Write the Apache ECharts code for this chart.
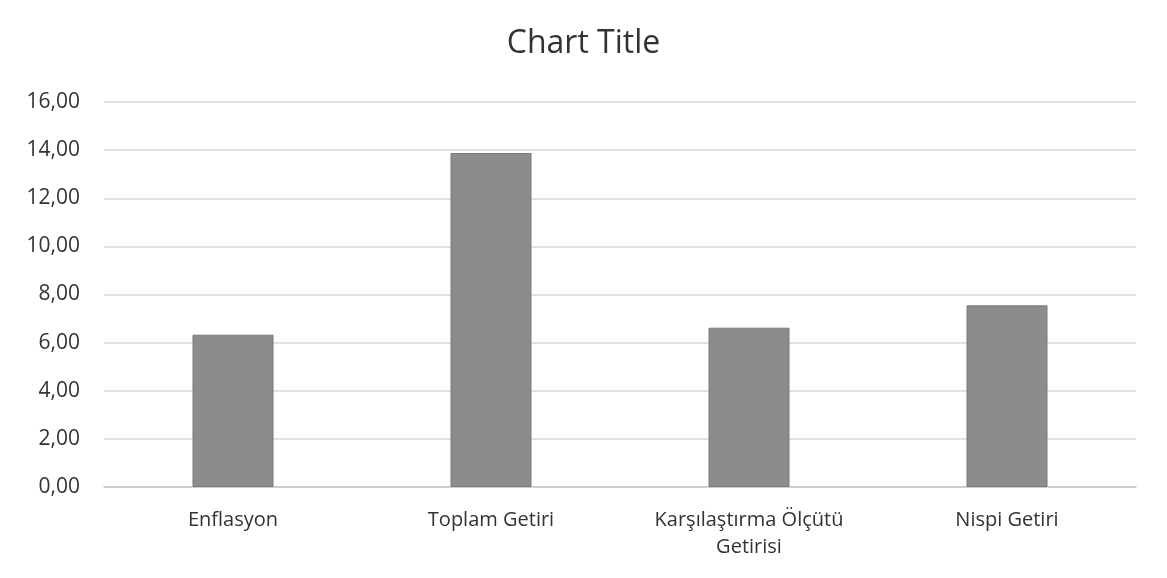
<!DOCTYPE html>
<html style="height: 100%">
<head>
    <meta charset="utf-8">
    <style type="text/css">
        body { margin: 0; background: #ffffff; }
        #container { width: 1167px; height: 578px; }
    </style>
</head>
<body>
<div id="container"></div>
<script src="https://cdn.jsdelivr.net/npm/echarts@6/dist/echarts.min.js"></script>
<script type="text/javascript">
    // values
    var categories = ['Enflasyon', 'Toplam Getiri', 'Karşılaştırma Ölçütü\nGetirisi', 'Nispi Getiri'];
    var values = [6.33, 13.88, 6.62, 7.55];
    var yTicks = { min: 0, max: 16, step: 2 };

    var chart = echarts.init(document.getElementById('container'));
    var option = {
        backgroundColor: '#ffffff',
        animation: false,
        title: {
            text: 'Chart Title',
            left: 'center',
            top: 23,
            textStyle: {
                fontFamily: 'Open Sans',
                fontSize: 32,
                fontWeight: 'normal',
                color: '#333333'
            }
        },
        grid: {
            left: 104,
            right: 31,
            top: 102,
            bottom: 91
        },
        xAxis: {
            type: 'category',
            data: categories,
            axisTick: { show: false },
            axisLine: { lineStyle: { color: '#c8c8c8', width: 1.5 } },
            axisLabel: {
                margin: 20,
                fontFamily: 'Open Sans',
                fontSize: 20,
                color: '#333333',
                lineHeight: 27,
                interval: 0
            }
        },
        yAxis: {
            type: 'value',
            min: yTicks.min,
            max: yTicks.max,
            interval: yTicks.step,
            axisLine: { show: false },
            axisTick: { show: false },
            splitLine: { lineStyle: { color: '#d9d9d9', width: 1.5 } },
            axisLabel: {
                margin: 24,
                fontFamily: 'Open Sans',
                fontSize: 21,
                color: '#333333',
                formatter: function (v) { return v.toFixed(2).replace('.', ','); }
            }
        },
        series: [{
            type: 'bar',
            data: values,
            barWidth: 81,
            itemStyle: {
                color: '#8c8c8c',
                borderColor: '#7a7a7a',
                borderWidth: 1
            }
        }]
    };
    chart.setOption(option);
</script>
</body>
</html>
